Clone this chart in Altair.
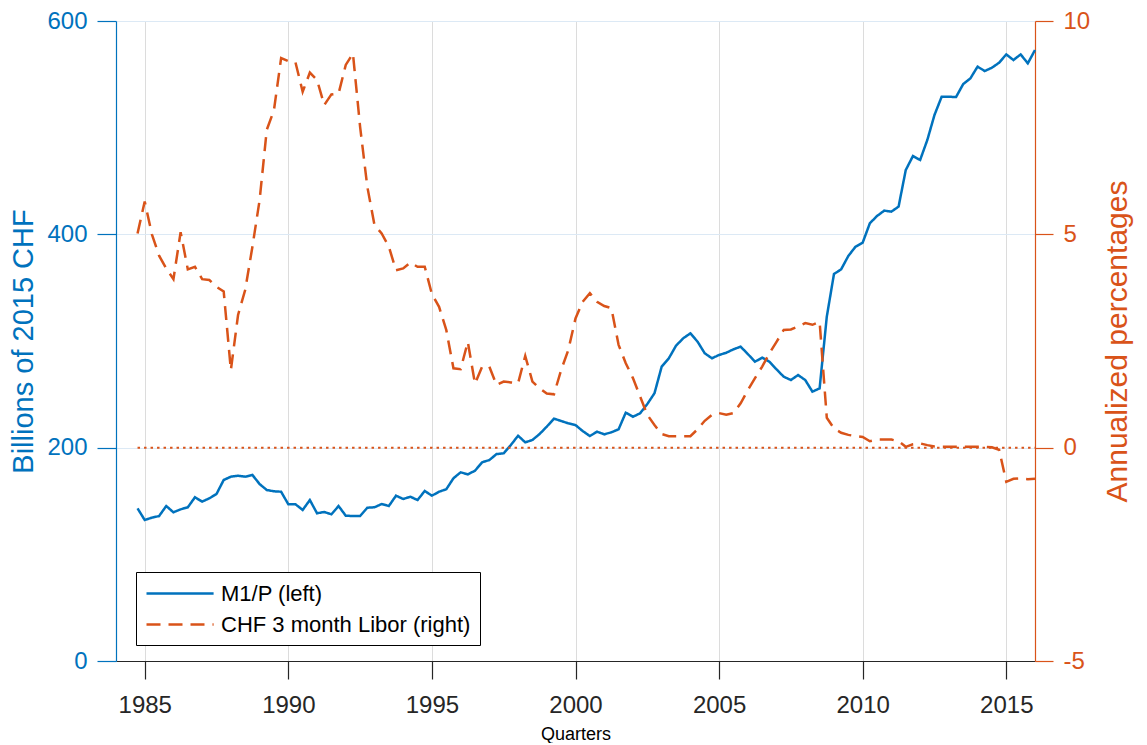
import altair as alt
import pandas as pd

# ---- data ----
start_quarter = 1984.75          # 1984 Q4
step = 0.25                      # quarterly

m1_1984_1994 = [143.1, 132.2, 134.4, 135.9, 145.3, 139.4, 142.2, 144.1, 153.5, 149.4,
                152.5, 156.6, 169.7, 172.8, 173.7, 172.8, 174.4, 165.9, 160.3, 159.1,
                158.7, 146.9, 146.9, 141.6, 150.9, 138.5, 139.7, 137.5, 145.3, 136.2,
                135.9, 135.9, 143.7, 144.1, 147.2, 145.3, 155.0, 151.9, 154.0, 150.9,
                159.4]
m1_1995_2016 = [155.0, 158.7, 161.0, 171.3, 176.9, 175.0, 178.4, 186.3, 188.4, 194.0,
                194.7, 202.5, 211.2, 205.0, 207.2, 212.8, 219.7, 227.2, 225.0, 222.8,
                221.2, 215.6, 210.9, 215.0, 212.5, 214.4, 217.2, 232.8, 229.0, 232.2,
                240.9, 251.0, 275.9, 283.8, 295.6, 302.5, 307.2, 299.4, 288.5, 283.8,
                286.9, 289.0, 292.2, 294.7, 287.8, 280.6, 284.4, 280.6, 273.4, 266.5,
                263.4, 268.1, 263.4, 252.5, 255.6, 322.8, 362.8, 367.2, 379.7, 388.4,
                392.2, 410.4, 417.2, 422.2, 421.3, 426.0, 460.3, 473.4, 469.7, 488.4,
                511.9, 529.0, 529.0, 528.7, 540.9, 546.2, 557.2, 553.1, 556.2, 560.9,
                568.7, 563.4, 568.7, 560.3, 572.8]

libor_1984_1994 = [5.02, 5.77, 5.0, 4.5, 4.2, 3.95, 5.05, 4.18, 4.24, 3.95,
                   3.93, 3.77, 3.66, 1.82, 3.11, 3.70, 4.71, 5.80, 7.45, 7.91,
                   9.13, 9.06, 9.03, 8.34, 8.79, 8.62, 8.03, 8.28, 8.30, 8.97,
                   9.24, 7.52, 6.12, 5.22, 5.02, 4.71, 4.16, 4.20, 4.34, 4.24,
                   4.24]
libor_1995_2016 = [3.6, 3.30, 2.76, 1.86, 1.84, 2.48, 1.50, 1.90, 1.90, 1.47,
                   1.55, 1.53, 1.51, 2.15, 1.55, 1.39, 1.27, 1.25, 1.82, 2.29,
                   3.03, 3.42, 3.62, 3.42, 3.32, 3.27, 2.41, 1.98, 1.63, 1.20,
                   0.77, 0.53, 0.32, 0.27, 0.27, 0.27, 0.27, 0.43, 0.63, 0.77,
                   0.81, 0.77, 0.81, 1.04, 1.35, 1.63, 1.90, 2.21, 2.48, 2.76,
                   2.77, 2.84, 2.92, 2.88, 2.95, 0.70, 0.45, 0.35, 0.30, 0.27,
                   0.25, 0.15, 0.19, 0.19, 0.19, 0.15, 0.02, 0.08, 0.10, 0.06,
                   0.03, 0.02, 0.02, 0.02, 0.02, 0.02, 0.02, 0.02, 0.01, -0.05,
                   -0.80, -0.73, -0.72, -0.74, -0.73]

series_names = ["M1/P (left)", "CHF 3 month Libor (right)"]
x_ticks = [1985, 1990, 1995, 2000, 2005, 2010, 2015]
left_ticks = [0, 200, 400, 600]
right_ticks = [-5, 0, 5, 10]

m1 = m1_1984_1994 + m1_1995_2016
libor = libor_1984_1994 + libor_1995_2016
quarters = [start_quarter + step * i for i in range(len(m1))]

BLUE = "#0072BD"
ORANGE = "#D95319"
DARK = "#262626"
FONT = "Liberation Sans"

df_m1 = pd.DataFrame({"t": quarters, "v": m1, "series": series_names[0]})
df_lib = pd.DataFrame({"t": quarters, "v": libor, "series": series_names[1]})
df_zero = pd.DataFrame({"t": [quarters[0]], "t2": [quarters[-1]], "v": [0.0]})

x_scale = alt.Scale(domain=[1984, 2016], nice=False, zero=False)
x_axis = alt.Axis(values=x_ticks, format="d", title="Quarters", grid=True,
                  gridColor="#dcdcdc", gridWidth=1, tickColor=DARK, tickSize=18,
                  tickWidth=1.2, domainColor=DARK, domainWidth=1.2, labelColor=DARK,
                  labelFontSize=24, labelPadding=14, titleFontSize=18,
                  titleFontWeight="normal", titleColor="black", titlePadding=8,
                  labelFlush=False)
X = alt.X("t:Q", scale=x_scale, axis=x_axis)

color = alt.Color("series:N", scale=alt.Scale(domain=series_names, range=[BLUE, ORANGE]),
                  legend=alt.Legend(title=None))
dash = alt.StrokeDash("series:N",
                      scale=alt.Scale(domain=series_names, range=[[1, 0], [14, 8]]),
                      legend=alt.Legend(title=None))

left_axis = alt.Axis(orient="left", values=left_ticks, title="Billions of 2015 CHF",
                     grid=True, gridColor="#dce9f5", gridWidth=1,
                     domainColor=BLUE, domainWidth=1.2, tickColor=BLUE, tickWidth=1.2,
                     tickSize=19, labelColor=BLUE, labelFontSize=24, labelPadding=10,
                     titleColor=BLUE, titleFontSize=29, titleFontWeight="normal",
                     titlePadding=8)
m1_line = alt.Chart(df_m1).mark_line(strokeWidth=2.5).encode(
    x=X,
    y=alt.Y("v:Q", scale=alt.Scale(domain=[0, 600], nice=False), axis=left_axis),
    color=color,
    strokeDash=dash,
)

right_axis = alt.Axis(orient="right", values=right_ticks, title="Annualized percentages",
                      grid=False, domainColor=ORANGE, domainWidth=1.2, tickColor=ORANGE,
                      tickWidth=1.2, tickSize=18, labelColor=ORANGE, labelFontSize=24,
                      labelPadding=10, labelExpr="'' + datum.value",
                      titleColor=ORANGE, titleFontSize=30, titleFontWeight="normal",
                      titleAngle=270, titleBaseline="top", titlePadding=13)
right_scale = alt.Scale(domain=[-5, 10], nice=False)

lib_line = alt.Chart(df_lib).mark_line(strokeWidth=2.5).encode(
    x=X,
    y=alt.Y("v:Q", scale=right_scale, axis=right_axis),
    color=color,
    strokeDash=dash,
)
zero_rule = alt.Chart(df_zero).mark_rule(color=ORANGE, strokeDash=[2.5, 4],
                                         strokeWidth=2).encode(
    x=X,
    x2="t2:Q",
    y=alt.Y("v:Q", scale=right_scale, axis=right_axis),
)

right = alt.layer(zero_rule, lib_line)

chart = alt.layer(m1_line, right).resolve_scale(y="independent").properties(
    width=919, height=640,
    autosize=alt.AutoSizeParams(type="none"),
    padding={"left": 108, "top": 13, "right": 104, "bottom": 82},
).configure_view(stroke=None).configure_axis(
    labelFont=FONT, titleFont=FONT
).configure_legend(
    orient="none", legendX=20, legendY=551, strokeColor="black", fillColor="white",
    padding=9, labelFontSize=22, labelFont=FONT, labelColor="black", labelLimit=600,
    symbolType="M-1,0H5.1", symbolSize=484, symbolStrokeWidth=2.5, rowPadding=7,
    labelOffset=51, cornerRadius=0,
)

chart.save("out.html", embed_options={"renderer": "svg", "actions": False})
